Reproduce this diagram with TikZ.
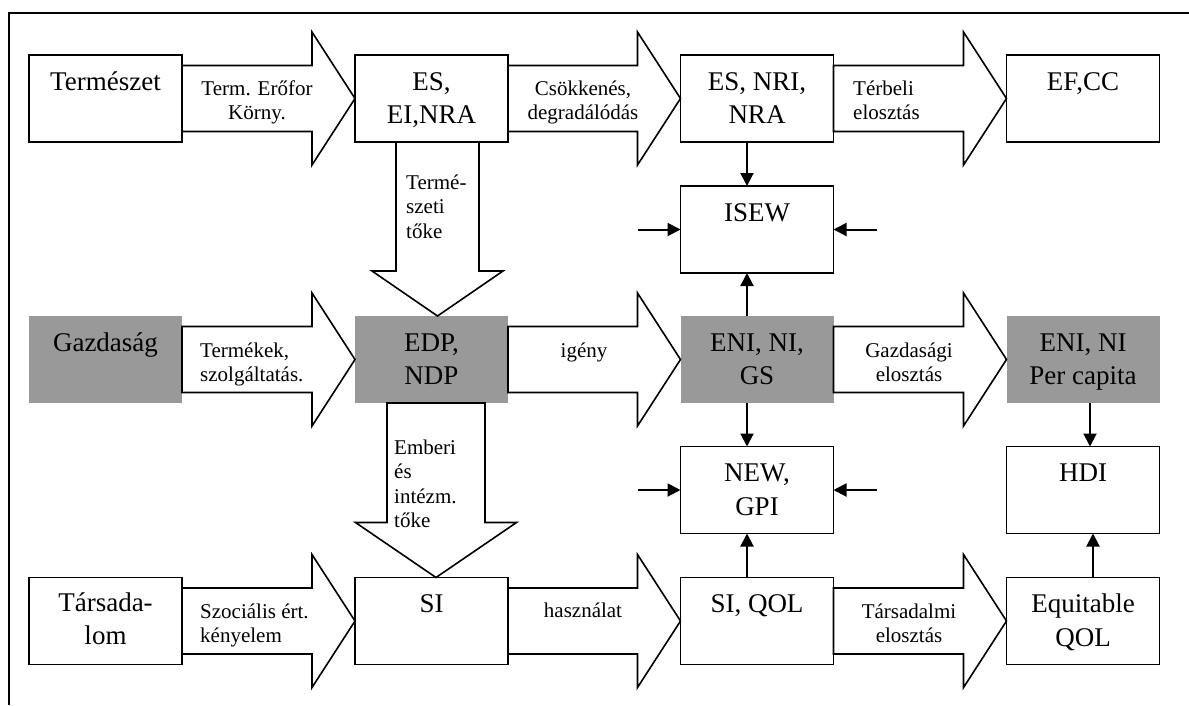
\documentclass[tikz,border=0pt]{standalone}
\usepackage{fontspec}
\setmainfont{Liberation Serif}
\usetikzlibrary{arrows.meta,calc}
\definecolor{econgrey}{RGB}{153,153,153}

% horizontal block arrow from the east side of #1 to the west side of #2
\newcommand\flowarrow[2]{%
  \draw[blockarrow] ($(#1.east)+(0,-33)$) -- ($(#2.west)+(-43,-33)$)
    -- ($(#2.west)+(-43,-66.5)$) -- (#2.west) -- ($(#2.west)+(-43,66.5)$)
    -- ($(#2.west)+(-43,33)$) -- ($(#1.east)+(0,33)$) -- cycle;}
% vertical block arrow from #1 down to #2: x offset #3, shaft half width #4,
% head half width #5, head length #6
\newcommand\capitalarrow[6]{%
  \draw[blockarrow] ($(#1.south)+(#3-#4,0)$) -- ($(#2.north)+(#3-#4,-#6)$)
    -- ($(#2.north)+(#3-#5,-#6)$) -- ($(#2.north)+(#3,0)$)
    -- ($(#2.north)+(#3+#5,-#6)$) -- ($(#2.north)+(#3+#4,-#6)$)
    -- ($(#1.south)+(#3+#4,0)$) -- cycle;}

\begin{document}
\begin{tikzpicture}[x=1pt,y=-1pt,
  box/.style={draw, line width=1.6pt, fill=white, minimum width=153pt,
    minimum height=87pt, inner sep=0pt, outer sep=0pt},
  greybox/.style={fill=econgrey, minimum width=153pt, minimum height=87pt,
    inner sep=0pt, outer sep=0pt},
  boxtext/.style={anchor=north, inner sep=0pt, align=center,
    font=\fontsize{27}{33.5}\selectfont},
  flowtext/.style={anchor=north, inner sep=0pt, align=center,
    font=\fontsize{21}{24.5}\selectfont},
  flowtextl/.style={flowtext, anchor=north west, align=left},
  blockarrow/.style={draw, line width=1.6pt, fill=white, line join=miter},
  link/.style={line width=2pt, -{Triangle[length=13pt,width=13pt]}}
]
\useasboundingbox (0,0) rectangle (1189,705);

% frame
\draw[line width=2pt] (1189,12.5) -- (9,12.5) -- (9,705);

% boxes
\node[box]     (nat)  at (105.5,98.5) {};
\node[box]     (es1)  at (431.5,98.5) {};
\node[box]     (es2)  at (757,98.5)   {};
\node[box]     (efcc) at (1083,98.5)  {};
\node[box]     (isew) at (757,229.5)  {};
\node[greybox] (eco)  at (105.5,359.5) {};
\node[greybox] (edp)  at (431.5,359.5) {};
\node[greybox] (eni)  at (757,359.5)  {};
\node[greybox] (pc)   at (1083,359.5) {};
\node[box]     (new)  at (757,490)    {};
\node[box]     (hdi)  at (1083,490)   {};
\node[box]     (soc)  at (105.5,621)  {};
\node[box]     (si)   at (431.5,621)  {};
\node[box]     (siq)  at (757,621)    {};
\node[box]     (eq)   at (1083,621)   {};

% box texts
\node[boxtext] (natT)  at ([yshift=-11.5pt]nat.north)  {\strut Természet};
\node[boxtext] (es1T)  at ([yshift=-11.5pt]es1.north)  {\strut ES,\\EI,NRA};
\node[boxtext] (es2T)  at ([yshift=-11.5pt]es2.north)  {\strut ES, NRI,\\NRA};
\node[boxtext] (efccT) at ([yshift=-11.5pt]efcc.north) {\strut EF,CC};
\node[boxtext] (isewT) at ([yshift=-11.5pt]isew.north) {\strut ISEW};
\node[boxtext] (ecoT)  at ([yshift=-11.5pt]eco.north)  {\strut Gazdaság};
\node[boxtext] (edpT)  at ([yshift=-11.5pt]edp.north)  {\strut EDP,\\NDP};
\node[boxtext] (eniT)  at ([yshift=-11.5pt]eni.north)  {\strut ENI, NI,\\GS};
\node[boxtext] (pcT)   at ([yshift=-11.5pt]pc.north)   {\strut ENI, NI\\Per capita};
\node[boxtext] (newT)  at ([yshift=-11.5pt]new.north)  {\strut NEW,\\GPI};
\node[boxtext] (hdiT)  at ([yshift=-11.5pt]hdi.north)  {\strut HDI};
\node[boxtext] (socT)  at ([yshift=-10pt]soc.north)    {\strut Társada-\\lom};
\node[boxtext] (siT)   at ([yshift=-11.5pt]si.north)   {\strut SI};
\node[boxtext] (siqT)  at ([yshift=-11.5pt]siq.north)  {\strut SI, QOL};
\node[boxtext] (eqT)   at ([yshift=-11.5pt]eq.north)   {\strut Equitable\\QOL};

% block arrows
\flowarrow{nat}{es1}
\flowarrow{es1}{es2}
\flowarrow{es2}{efcc}
\flowarrow{eco}{edp}
\flowarrow{edp}{eni}
\flowarrow{eni}{pc}
\flowarrow{soc}{si}
\flowarrow{si}{siq}
\flowarrow{siq}{eq}
\capitalarrow{es1}{edp}{6}{41.5}{65.5}{45}
\capitalarrow{edp}{si}{4.5}{49}{80.5}{55}

% arrow labels
\node[flowtext]  (l1)  at (257,77.9)  {\strut Term. Erőfor\\Körny.};
\node[flowtext]  (l2)  at (583,77.9)  {\strut Csökkenés,\\degradálódás};
\node[flowtextl] (l3)  at (853,77.9)  {\strut Térbeli\\elosztás};
\node[flowtextl] (l4)  at (200,339.9) {\strut Termékek,\\szolgáltatás.};
\node[flowtext]  (l5)  at (584,339.9) {\strut igény};
\node[flowtext]  (l6)  at (909,339.9) {\strut Gazdasági\\elosztás};
\node[flowtextl] (l7)  at (200,600.9) {\strut Szociális ért.\\kényelem};
\node[flowtext]  (l8)  at (583,599.9) {\strut használat};
\node[flowtext]  (l9)  at (909,600.9) {\strut Társadalmi\\elosztás};
\node[flowtextl] (l10) at (406,171.9) {\strut Termé-\\szeti\\tőke};
\node[flowtextl] (l11) at (394,436.9) {\strut Emberi\\és\\intézm.\\tőke};

% indicator links
\draw[link] ([xshift=-10pt]es2.south) -- ([xshift=-10pt]isew.north);
\draw[link] ([xshift=-10pt]eni.north) -- ([xshift=-10pt]isew.south);
\draw[link] ([xshift=-10pt]eni.south) -- ([xshift=-10pt]new.north);
\draw[link] ([xshift=-10pt]siq.north) -- ([xshift=-10pt]new.south);
\draw[link] ([xshift=7pt]pc.south)   -- ([xshift=7pt]hdi.north);
\draw[link] ([xshift=10pt]eq.north)  -- ([xshift=10pt]hdi.south);

\coordinate (isewL) at (638,229.5);
\coordinate (isewR) at (877,229.5);
\coordinate (newL)  at (638,490);
\coordinate (newR)  at (877,490);
\draw[link] (isewL) -- (isew.west);
\draw[link] (isewR) -- (isew.east);
\draw[link] (newL)  -- (new.west);
\draw[link] (newR)  -- (new.east);
\end{tikzpicture}
\end{document}
